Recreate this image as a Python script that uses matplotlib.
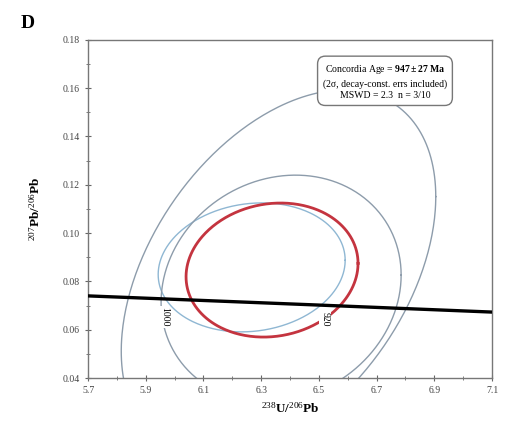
import numpy as np
import matplotlib
matplotlib.use("Agg")
import matplotlib.pyplot as plt
from matplotlib.ticker import MultipleLocator

plt.rcParams['font.family'] = ['Liberation Serif', 'DejaVu Serif']
plt.rcParams['mathtext.fontset'] = 'custom'
plt.rcParams['mathtext.rm'] = 'Liberation Serif'
plt.rcParams['mathtext.bf'] = 'Liberation Serif:bold'
plt.rcParams['mathtext.it'] = 'Liberation Serif:italic'

# error ellipses: centre, half widths, correlation
ell_names = ["A", "B", "C"]
ell_cx = [6.360, 6.267, 6.369]
ell_cy = [0.0831, 0.0858, 0.0770]
ell_sx = [0.545, 0.324, 0.416]
ell_sy = [0.0762, 0.0267, 0.0470]
ell_rho = [0.42, 0.11, 0.12]
ell_colors = ["#8d9cab", "#8fb7d3", "#8d9cab"]

# concordia-age ellipse
age_cx, age_cy = 6.3376, 0.0847
age_sx, age_sy, age_rho = 0.298, 0.02775, 0.10

# concordia curve (nearly straight in this window)
conc_x = [5.7, 6.1, 6.5, 7.1]
conc_y = [0.0740, 0.0721, 0.0702, 0.0673]
age_labels = ["1000", "920"]
age_label_x = [5.965, 6.522]
age_label_y = [0.0652, 0.0642]

xticks = [5.7, 5.9, 6.1, 6.3, 6.5, 6.7, 6.9, 7.1]
yticks = [0.04, 0.06, 0.08, 0.10, 0.12, 0.14, 0.16, 0.18]


def ellipse(cx, cy, sx, sy, rho, n=400):
    t = np.linspace(0, 2 * np.pi, n)
    x = cx + sx * np.cos(t)
    y = cy + sy * (rho * np.cos(t) + np.sqrt(1 - rho ** 2) * np.sin(t))
    return x, y


fig = plt.figure(figsize=(5.12, 4.28), dpi=100)
ax = fig.add_axes([0.172, 0.1168, 0.789, 0.790])

for i in range(len(ell_names)):
    x, y = ellipse(ell_cx[i], ell_cy[i], ell_sx[i], ell_sy[i], ell_rho[i])
    ax.plot(x, y, color=ell_colors[i], lw=1.0, zorder=2)

x, y = ellipse(age_cx, age_cy, age_sx, age_sy, age_rho)
ax.plot(x, y, color="#c4343f", lw=2.0, zorder=3)

ax.plot(conc_x, conc_y, color="black", lw=2.4, zorder=4)

for lab, lx, ly in zip(age_labels, age_label_x, age_label_y):
    ax.text(lx, ly, lab, rotation=-90, fontsize=7, ha="center", va="center",
            zorder=5, bbox=dict(boxstyle="square,pad=0.15", fc="white", ec="none"))

ax.text(0.735, 0.876,
        "Concordia Age = $\\mathbf{947 \\pm 27\\ Ma}$\n(2σ, decay-const. errs included)\nMSWD = 2.3  n = 3/10",
        transform=ax.transAxes, ha="center", va="center", fontsize=7,
        linespacing=1.35, zorder=6,
        bbox=dict(boxstyle="round,pad=0.55,rounding_size=0.8", fc="white", ec="#777777", lw=1.0))

ax.set_xlim(5.7, 7.1)
ax.set_ylim(0.04, 0.18)
ax.set_xticks(xticks)
ax.set_yticks(yticks)
ax.set_xticklabels([f"{v:.1f}" for v in xticks])
ax.set_yticklabels([f"{v:.2f}" for v in yticks])
ax.xaxis.set_minor_locator(MultipleLocator(0.1))
ax.yaxis.set_minor_locator(MultipleLocator(0.01))
ax.tick_params(which="both", direction="inout", labelsize=7, color="#666666", labelcolor="#444444")
ax.tick_params(which="major", length=5)
ax.tick_params(which="minor", length=3)
for s in ax.spines.values():
    s.set_color("#777777")
    s.set_linewidth(1.0)

ax.set_xlabel("$^{238}$U/$^{206}$Pb", fontsize=9.5, fontweight="bold", labelpad=4)
ax.set_ylabel("$^{207}$Pb/$^{206}$Pb", fontsize=9.5, fontweight="bold", labelpad=14)

fig.text(0.04, 0.945, "D", fontsize=14, fontweight="bold", ha="left", va="center")

fig.savefig("out.png", dpi=100)
